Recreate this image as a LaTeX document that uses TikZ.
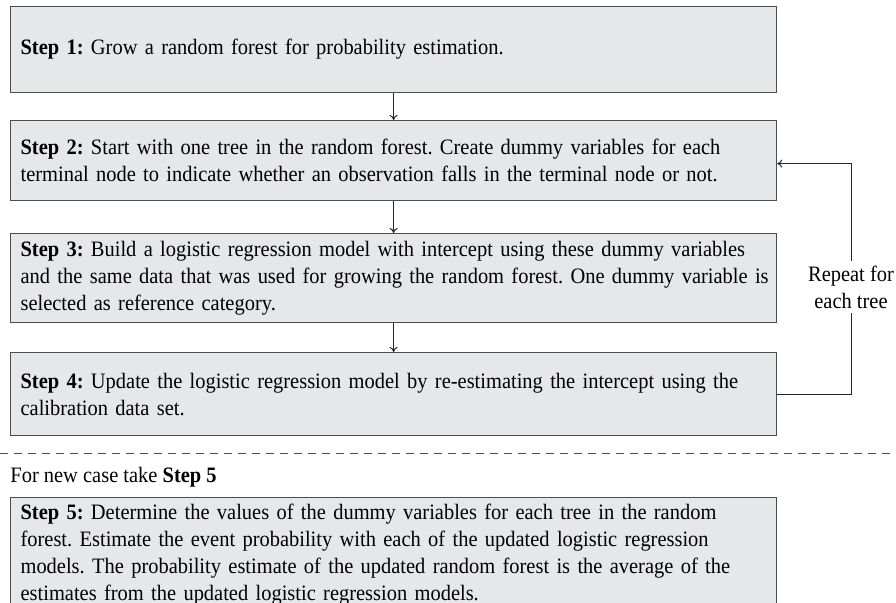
\documentclass[tikz,border=0pt]{standalone}
\usepackage{fontspec}
\setmainfont{Liberation Serif}[FakeStretch=0.93]
\usepackage{xcolor}
\usetikzlibrary{arrows.meta}

\definecolor{boxgray}{HTML}{E6E7E8}
\definecolor{edgegray}{HTML}{4D4D4D}
\frenchspacing
\hyphenpenalty=10000
\exhyphenpenalty=10000

\tikzset{
  stepbox/.style={draw=edgegray, line width=0.6pt, fill=boxgray, anchor=north west,
    text width=373pt, inner xsep=5pt, inner ysep=3pt, align=left,
    font=\rmfamily\fontsize{11}{13.5}\selectfont},
  flow/.style={line width=0.5pt, draw=black!85, -{To[length=2.5pt,width=4pt]}}
}

\begin{document}
\begin{tikzpicture}[x=0.5pt,y=-0.5pt]
  \useasboundingbox (0,0) rectangle (896,602);

  % the steps
  \node[stepbox, minimum height=43pt] (step1) at (10,6)
    {\textbf{Step 1:} Grow a random forest for probability estimation.};
  \node[stepbox, minimum height=40pt] (step2) at (10,120)
    {\textbf{Step 2:} Start with one tree in the random forest. Create dummy variables for each terminal node to indicate whether an observation falls in the terminal node or not.};
  \node[stepbox, minimum height=44.5pt, text width=378pt, inner xsep=2.5pt] (step3) at (10,233)
    {\hspace*{2.5pt}\textbf{Step 3:} Build a logistic regression model with intercept using these dummy variables\\
     \hspace*{2.5pt}and the same data that was used for growing the random forest. One dummy variable is\\
     \hspace*{2.5pt}selected as reference category.};
  \node[stepbox, minimum height=41.5pt] (step4) at (10,352)
    {\textbf{Step 4:} Update the logistic regression model by re-estimating the intercept using the calibration data set.};

  \draw[flow] (step1) -- (step2);
  \draw[flow] (step2) -- (step3);
  \draw[flow] (step3) -- (step4);

  % loop back
  \node[align=center, font=\rmfamily\fontsize{11}{13.5}\selectfont, inner sep=2pt] (repeat) at (851,287)
    {Repeat for\\each tree};
  \draw[line width=0.5pt, draw=black!85] (step4.east) -| (repeat.south);
  \draw[flow] (repeat.north) |- ([yshift=-1.5pt]step2.east);

  % new case
  \draw[edgegray, line width=0.5pt, dash pattern=on 4pt off 3pt] (0,453) -- (896,453);
  \node[anchor=west, inner sep=0pt, font=\rmfamily\fontsize{11}{13.5}\selectfont] (newcase) at (10,477)
    {For new case take \textbf{Step 5}};
  \node[stepbox, minimum height=48.5pt] (step5) at (10,497)
    {\textbf{Step 5:} Determine the values of the dummy variables for each tree in the random forest. Estimate the event probability with each of the updated logistic regression models. The probability estimate of the updated random forest is the average of the estimates from the updated logistic regression models.};
\end{tikzpicture}
\end{document}
